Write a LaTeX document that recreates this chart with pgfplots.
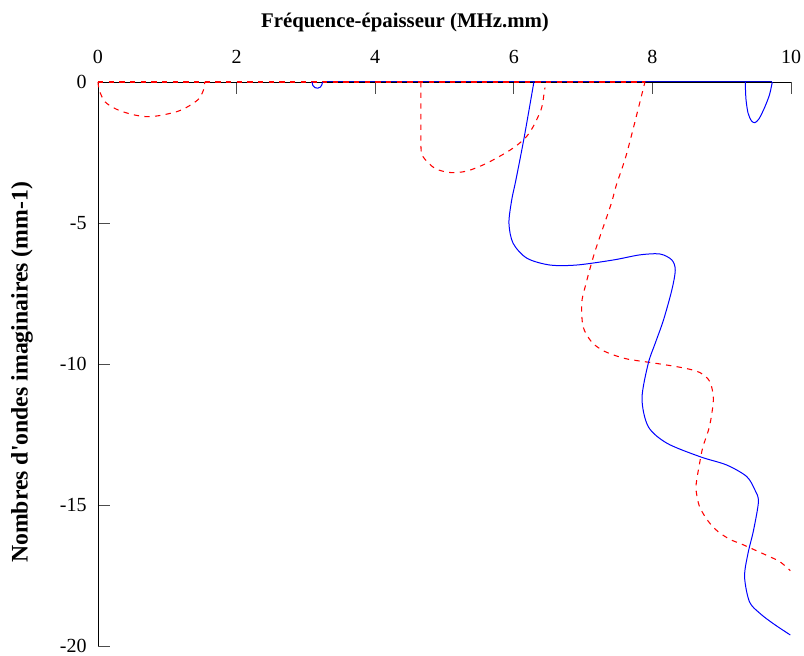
\documentclass[border=0pt]{standalone}
\usepackage{pgfplots}
\pgfplotsset{compat=1.18}
\usepackage{fontspec}
\setmainfont{Liberation Serif}
\begin{document}
\begin{tikzpicture}
\begin{axis}[
  scale only axis,
  width=519.75pt, height=423pt,
  at={(0,0)}, anchor=south west,
  xmin=0, xmax=10, ymin=-20, ymax=0,
  axis x line*=top, axis y line*=left,
  axis line style={black, line width=0.6pt},
  xtick={0,2,4,6,8,10}, xticklabels={0,2,4,6,8,10},
  ytick={-20,-15,-10,-5,0}, yticklabels={-20,-15,-10,-5,0},
  tick align=inside, major tick length=9pt,
  tick style={black!70, line width=0.6pt},
  /pgf/number format/assume math mode=true,
  tick label style={font=\fontsize{15}{18}\selectfont},
  xticklabel style={yshift=10pt},
  yticklabel style={xshift=-5pt},
  xlabel={\textbf{Fréquence-épaisseur (MHz.mm)}},
  ylabel={\textbf{Nombres d\textquotesingle ondes imaginaires (mm-1)}},
  every axis x label/.style={at={(axis description cs:0.443,1)}, anchor=center, yshift=45pt, font=\fontsize{15.6}{18}\selectfont},
  every axis y label/.style={at={(axis description cs:-0.1097,0.485)}, anchor=center, rotate=90, font=\fontsize{17.8}{20}\selectfont},
  clip=false,
]
% real branches along y = 0
\addplot[blue!80!black, line width=0.75pt] coordinates {(3.24,0) (9.73,0)};
\addplot[red, line width=0.8pt, dash pattern=on 4pt off 4pt] coordinates {(0,0) (7.89,0)};
% red dashed branches
\addplot[red, line width=0.8pt, dash pattern=on 4pt off 4pt, smooth, tension=0.5] coordinates {
(0,0) (0.02,-0.3) (0.1,-0.7) (0.27,-0.97) (0.49,-1.15) (0.70,-1.23) (0.89,-1.19) (1.14,-1.05) (1.30,-0.87) (1.45,-0.61) (1.52,-0.3) (1.54,0)};
\addplot[red, line width=0.8pt, dash pattern=on 4pt off 4pt, smooth, tension=0.5] coordinates {
(4.66,0) (4.66,-1.2) (4.66,-2.29) (4.69,-2.65) (4.86,-3.06) (5.08,-3.21) (5.32,-3.16) (5.61,-2.88) (5.95,-2.41) (6.16,-2.0) (6.28,-1.58) (6.40,-0.93) (6.44,-0.34) (6.45,-0.2)};
\addplot[red, line width=0.8pt, dash pattern=on 4pt off 4pt, smooth, tension=0.5] coordinates {
(7.89,0) (7.87,-0.22) (7.63,-2.53) (7.48,-3.65) (7.40,-4.36) (7.17,-6.02) (7.03,-7.26) (6.98,-7.85) (7.00,-8.68) (7.12,-9.21) (7.27,-9.50) (7.44,-9.68) (7.65,-9.83) (8.06,-9.98) (8.47,-10.15) (8.69,-10.31) (8.83,-10.63) (8.88,-11.22) (8.85,-11.87) (8.81,-12.34) (8.73,-12.93) (8.69,-13.40) (8.64,-14.11) (8.63,-14.47) (8.68,-15.06) (8.81,-15.59) (8.95,-15.95) (9.12,-16.22) (9.29,-16.39) (9.50,-16.62) (9.67,-16.81) (9.84,-17.01) (9.99,-17.33)};
% blue solid branches
\addplot[blue, line width=0.75pt, smooth, tension=0.5] coordinates {
(3.09,0) (3.10,-0.12) (3.13,-0.2) (3.17,-0.22) (3.21,-0.18) (3.23,-0.1) (3.24,0)};
\addplot[blue, line width=0.75pt, smooth, tension=0.5] coordinates {
(9.34,0) (9.35,-0.6) (9.38,-1.1) (9.43,-1.38) (9.48,-1.44) (9.54,-1.3) (9.62,-0.9) (9.69,-0.45) (9.73,0)};
\addplot[blue, line width=0.75pt, smooth, tension=0.5] coordinates {
(6.29,0) (6.15,-1.96) (6.03,-3.48) (5.97,-4.18) (5.93,-5.01) (5.99,-5.72) (6.19,-6.25) (6.52,-6.49) (6.91,-6.49) (7.44,-6.31) (7.82,-6.13) (8.11,-6.10) (8.28,-6.31) (8.33,-6.67) (8.28,-7.38) (8.16,-8.44) (8.04,-9.27) (7.94,-9.98) (7.85,-11.22) (7.94,-12.22) (8.21,-12.81) (8.69,-13.29) (9.07,-13.58) (9.36,-13.99) (9.48,-14.47) (9.53,-14.88) (9.46,-15.89) (9.38,-16.71) (9.33,-17.54) (9.40,-18.43) (9.55,-18.84) (9.74,-19.20) (9.99,-19.61)};
\end{axis}
\pgfresetboundingbox
\path (-73.5pt,-7pt) rectangle (529.5pt,484.5pt);
\end{tikzpicture}
\end{document}
